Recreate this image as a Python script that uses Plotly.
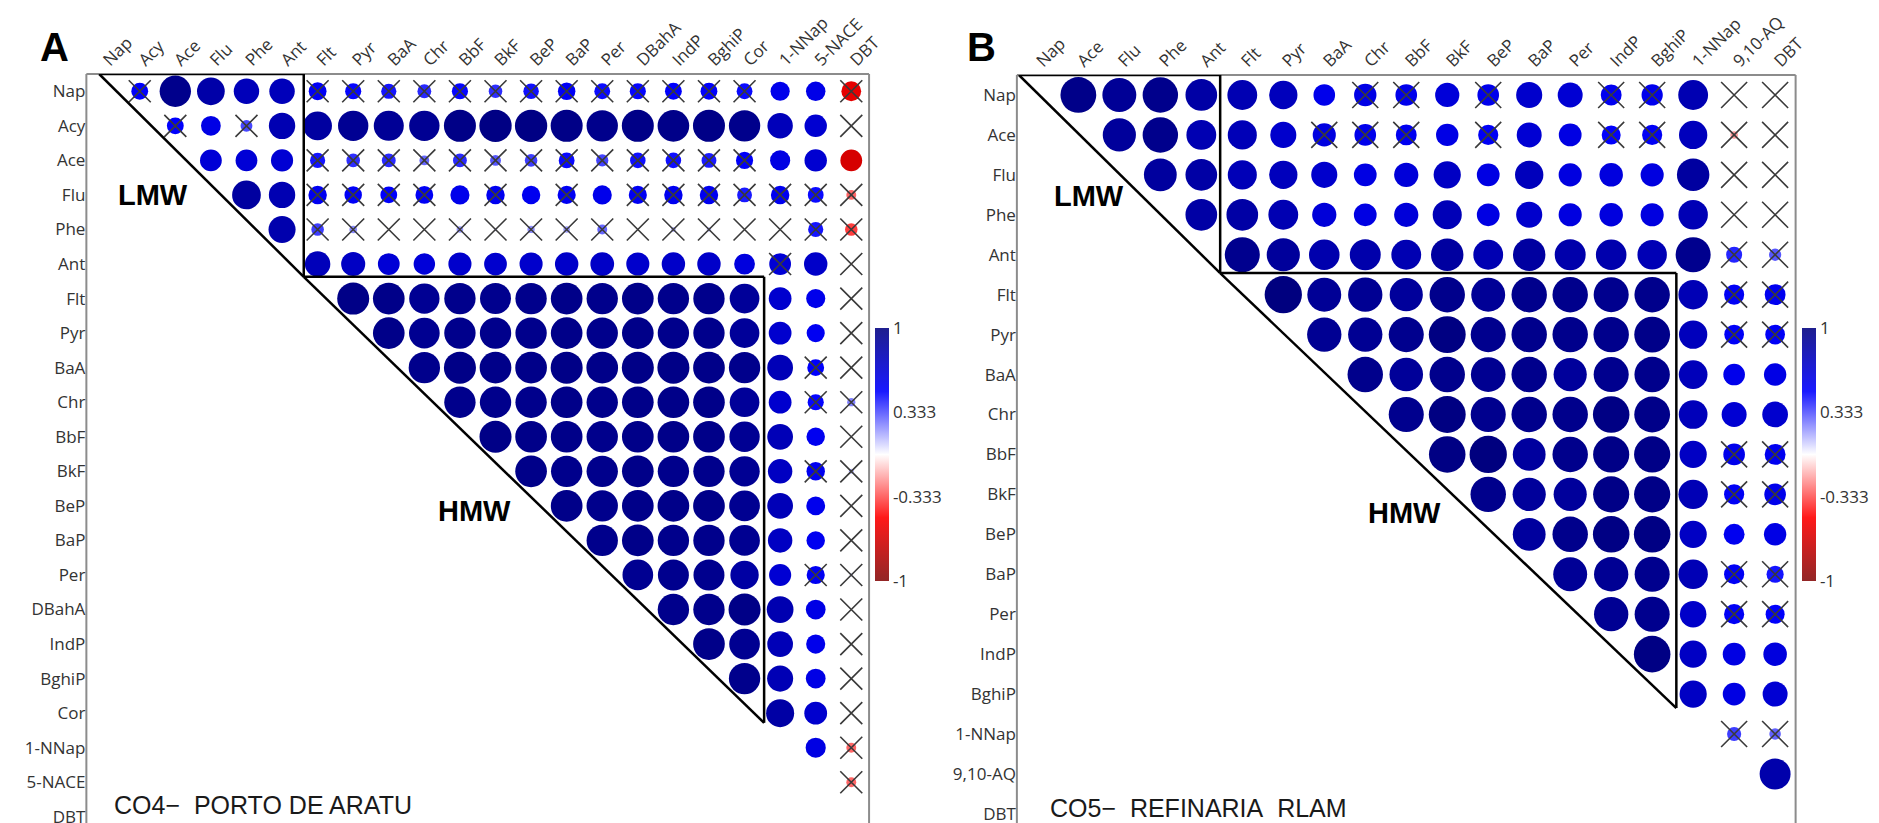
import plotly.graph_objects as go

W, H = 1879, 823

# ---- panel A: CO4 - Porto de Aratu ----
LABELS_A = ["Nap", "Acy", "Ace", "Flu", "Phe", "Ant", "Flt", "Pyr", "BaA", "Chr", "BbF",
            "BkF", "BeP", "BaP", "Per", "DBahA", "IndP", "BghiP", "Cor", "1-NNap",
            "5-NACE", "DBT"]

# upper triangle, row i holds correlations with columns i+1 .. n-1
CORR_A = [
    [0.51, 0.95, 0.84, 0.77, 0.77, 0.54, 0.49, 0.46, 0.42, 0.49, 0.41, 0.47, 0.53, 0.48, 0.49, 0.51, 0.51, 0.48, 0.58, 0.59, -0.60],
    [0.51, 0.60, 0.36, 0.80, 0.87, 0.92, 0.91, 0.92, 0.97, 0.98, 0.98, 0.97, 0.95, 0.97, 0.96, 0.97, 0.95, 0.77, 0.68, 0.03],
    [0.66, 0.66, 0.67, 0.46, 0.41, 0.42, 0.30, 0.42, 0.33, 0.38, 0.48, 0.37, 0.47, 0.47, 0.45, 0.52, 0.61, 0.68, -0.66],
    [0.87, 0.80, 0.56, 0.53, 0.51, 0.54, 0.58, 0.56, 0.56, 0.55, 0.58, 0.55, 0.56, 0.56, 0.45, 0.56, 0.48, -0.30],
    [0.82, 0.38, 0.23, 0.05, 0.05, 0.20, 0.10, 0.22, 0.20, 0.30, 0.04, 0.15, 0.13, 0.02, 0.05, 0.46, -0.38],
    [0.77, 0.73, 0.66, 0.65, 0.70, 0.69, 0.70, 0.71, 0.72, 0.70, 0.71, 0.71, 0.63, 0.66, 0.71, -0.08],
    [0.97, 0.96, 0.92, 0.95, 0.94, 0.95, 0.96, 0.95, 0.96, 0.95, 0.95, 0.90, 0.69, 0.58, 0.02],
    [0.96, 0.93, 0.95, 0.95, 0.95, 0.96, 0.95, 0.96, 0.95, 0.95, 0.90, 0.69, 0.55, 0.02],
    [0.95, 0.97, 0.96, 0.96, 0.97, 0.96, 0.97, 0.97, 0.96, 0.95, 0.78, 0.51, 0.02],
    [0.95, 0.95, 0.95, 0.96, 0.95, 0.96, 0.96, 0.96, 0.90, 0.69, 0.49, 0.25],
    [0.97, 0.96, 0.96, 0.95, 0.96, 0.96, 0.96, 0.92, 0.78, 0.56, 0.02],
    [0.96, 0.95, 0.95, 0.96, 0.95, 0.95, 0.92, 0.74, 0.56, 0.15],
    [0.96, 0.95, 0.96, 0.96, 0.96, 0.93, 0.78, 0.57, 0.02],
    [0.95, 0.96, 0.95, 0.95, 0.93, 0.74, 0.56, 0.02],
    [0.93, 0.94, 0.94, 0.86, 0.67, 0.55, 0.10],
    [0.95, 0.95, 0.97, 0.81, 0.60, 0.02],
    [0.96, 0.93, 0.78, 0.58, 0.02],
    [0.95, 0.79, 0.60, 0.02],
    [0.85, 0.69, 0.02],
    [0.61, -0.30],
    [-0.30],
]

# 1 = not significant (drawn with a cross)
NS_A = [
    [1, 0, 0, 0, 0, 1, 1, 1, 1, 1, 1, 1, 1, 1, 1, 1, 1, 1, 0, 0, 1],
    [1, 0, 1, 0, 0, 0, 0, 0, 0, 0, 0, 0, 0, 0, 0, 0, 0, 0, 0, 1],
    [0, 0, 0, 1, 1, 1, 1, 1, 1, 1, 1, 1, 1, 1, 1, 1, 0, 0, 0],
    [0, 0, 1, 1, 1, 1, 0, 1, 0, 1, 0, 1, 1, 1, 1, 1, 1, 1],
    [0, 1, 1, 1, 1, 1, 1, 1, 1, 1, 1, 1, 1, 1, 1, 1, 1],
    [0, 0, 0, 0, 0, 0, 0, 0, 0, 0, 0, 0, 0, 1, 0, 1],
    [0, 0, 0, 0, 0, 0, 0, 0, 0, 0, 0, 0, 0, 0, 1],
    [0, 0, 0, 0, 0, 0, 0, 0, 0, 0, 0, 0, 0, 1],
    [0, 0, 0, 0, 0, 0, 0, 0, 0, 0, 0, 1, 1],
    [0, 0, 0, 0, 0, 0, 0, 0, 0, 0, 1, 1],
    [0, 0, 0, 0, 0, 0, 0, 0, 0, 0, 1],
    [0, 0, 0, 0, 0, 0, 0, 0, 1, 1],
    [0, 0, 0, 0, 0, 0, 0, 0, 1],
    [0, 0, 0, 0, 0, 0, 0, 1],
    [0, 0, 0, 0, 0, 1, 1],
    [0, 0, 0, 0, 0, 1],
    [0, 0, 0, 0, 1],
    [0, 0, 0, 1],
    [0, 0, 1],
    [0, 1],
    [1],
]

# ---- panel B: CO5 - Refinaria RLAM ----
LABELS_B = ["Nap", "Ace", "Flu", "Phe", "Ant", "Flt", "Pyr", "BaA", "Chr", "BbF", "BkF",
            "BeP", "BaP", "Per", "IndP", "BghiP", "1-NNap", "9,10-AQ", "DBT"]

CORR_B = [
    [0.96, 0.91, 0.95, 0.85, 0.80, 0.76, 0.58, 0.60, 0.58, 0.65, 0.58, 0.70, 0.67, 0.56, 0.57, 0.80, 0.02, 0.02],
    [0.89, 0.95, 0.80, 0.78, 0.70, 0.62, 0.58, 0.56, 0.60, 0.54, 0.67, 0.61, 0.51, 0.54, 0.76, -0.20, -0.05],
    [0.88, 0.85, 0.78, 0.76, 0.70, 0.61, 0.65, 0.73, 0.61, 0.76, 0.62, 0.63, 0.62, 0.87, 0.02, 0.02],
    [0.85, 0.85, 0.80, 0.65, 0.61, 0.65, 0.78, 0.61, 0.70, 0.62, 0.63, 0.62, 0.79, 0.02, 0.04],
    [0.94, 0.89, 0.82, 0.83, 0.80, 0.87, 0.80, 0.87, 0.83, 0.82, 0.79, 0.94, 0.43, 0.33],
    [1.00, 0.91, 0.92, 0.89, 0.95, 0.91, 0.95, 0.95, 0.94, 0.95, 0.79, 0.54, 0.56],
    [0.92, 0.92, 0.94, 0.99, 0.94, 0.95, 0.95, 0.95, 0.96, 0.76, 0.53, 0.53],
    [0.95, 0.90, 0.95, 0.93, 0.95, 0.89, 0.94, 0.95, 0.77, 0.58, 0.60],
    [0.94, 0.99, 0.94, 0.95, 0.95, 0.98, 0.96, 0.77, 0.67, 0.69],
    [0.98, 1.00, 0.88, 0.95, 0.97, 0.97, 0.73, 0.58, 0.56],
    [0.95, 0.89, 0.89, 0.97, 0.97, 0.79, 0.54, 0.58],
    [0.88, 0.95, 0.98, 0.98, 0.73, 0.56, 0.60],
    [0.91, 0.92, 0.94, 0.79, 0.54, 0.46],
    [0.92, 0.94, 0.71, 0.54, 0.51],
    [0.98, 0.73, 0.61, 0.63],
    [0.73, 0.61, 0.67],
    [0.38, 0.31],
    [0.83],
]

NS_B = [
    [0, 0, 0, 0, 0, 0, 0, 1, 1, 0, 1, 0, 0, 1, 1, 0, 1, 1],
    [0, 0, 0, 0, 0, 1, 1, 1, 0, 1, 0, 0, 1, 1, 0, 1, 1],
    [0, 0, 0, 0, 0, 0, 0, 0, 0, 0, 0, 0, 0, 0, 1, 1],
    [0, 0, 0, 0, 0, 0, 0, 0, 0, 0, 0, 0, 0, 1, 1],
    [0, 0, 0, 0, 0, 0, 0, 0, 0, 0, 0, 0, 1, 1],
    [0, 0, 0, 0, 0, 0, 0, 0, 0, 0, 0, 1, 1],
    [0, 0, 0, 0, 0, 0, 0, 0, 0, 0, 1, 1],
    [0, 0, 0, 0, 0, 0, 0, 0, 0, 0, 0],
    [0, 0, 0, 0, 0, 0, 0, 0, 0, 0],
    [0, 0, 0, 0, 0, 0, 0, 1, 1],
    [0, 0, 0, 0, 0, 0, 1, 1],
    [0, 0, 0, 0, 0, 0, 0],
    [0, 0, 0, 0, 1, 1],
    [0, 0, 0, 1, 1],
    [0, 0, 0, 0],
    [0, 0, 0],
    [1, 1],
    [0],
]

CB_TICKS = [1, 0.333, -0.333, -1]
CB_TEXT = ["1", "0.333", "-0.333", "-1"]

CSCALE = [[0.0, "#7F0000"], [0.25, "#FF0000"], [0.5, "#FFFFFF"], [0.75, "#0000FF"], [1.0, "#00007F"]]
CSCALE_BAR = [[0.0, "rgba(127,0,0,0.85)"], [0.25, "rgba(255,0,0,0.9)"], [0.5, "rgba(255,255,255,0.9)"],
              [0.75, "rgba(0,0,255,0.9)"], [1.0, "rgba(0,0,127,0.88)"]]

TICKFONT = dict(family="Open Sans, sans-serif", size=17, color="#333333")


def px2x(px):
    return px / W


def px2y(py):
    return 1 - py / H


def cells(corr, ns):
    xs, ys, rs, cx, cy = [], [], [], [], []
    for i, row in enumerate(corr):
        for k, r in enumerate(row):
            j = i + 1 + k
            xs.append(j)
            ys.append(i)
            rs.append(r)
            if ns[i][k]:
                cx.append(j)
                cy.append(i)
    return xs, ys, rs, cx, cy


fig = go.Figure()

panels = [
    # labels, corr, ns, axis suffix, x px range, y top px, row px, max circle, cross size, colorbar x px
    (LABELS_A, CORR_A, NS_A, "", (79, 868), 66, 34.55, 33.0, 22, 874),
    (LABELS_B, CORR_B, NS_B, "2", (1017, 1802), 67, 39.94, 37.3, 26, 1808),
]

for labels, corr, ns, sfx, (xl, xr), ytop, rowh, dmax, xsize, cbx in panels:
    n = len(labels)
    xs, ys, rs, cx, cy = cells(corr, ns)
    xa, ya = "x" + sfx, "y" + sfx

    fig.add_trace(go.Scatter(
        x=xs, y=ys, mode="markers", xaxis=xa, yaxis=ya,
        marker=dict(size=[dmax * abs(r) for r in rs], color=rs, colorscale=CSCALE,
                    cmin=-1, cmax=1, line=dict(width=0), opacity=1),
        hovertemplate="%{y} / %{x}: %{marker.color:.2f}<extra></extra>",
        showlegend=False,
    ))
    fig.add_trace(go.Scatter(
        x=cx, y=cy, mode="markers", xaxis=xa, yaxis=ya,
        marker=dict(symbol="x-thin", size=xsize, line=dict(width=1.6, color="#3a3a3a")),
        hoverinfo="skip", showlegend=False,
    ))
    # colour bar only
    fig.add_trace(go.Scatter(
        x=[0, 0], y=[0, 0], mode="markers", xaxis=xa, yaxis=ya,
        marker=dict(size=0.1, opacity=0, color=[-1, 1], colorscale=CSCALE_BAR, cmin=-1, cmax=1,
                    showscale=True,
                    colorbar=dict(x=px2x(cbx), xanchor="left", y=px2y(446.5), yanchor="middle",
                                  lenmode="pixels", len=253, thickness=14, thicknessmode="pixels",
                                  outlinewidth=0, xpad=0, ypad=0, ticks="",
                                  tickvals=CB_TICKS, ticktext=CB_TEXT, tickfont=TICKFONT)),
        hoverinfo="skip", showlegend=False,
    ))

    ybottom = -0.5 + (H - ytop) / rowh
    fig.update_layout(**{
        "xaxis" + sfx: dict(domain=[px2x(xl), px2x(xr)], range=[-0.5, n - 0.5], side="top",
                            anchor=ya, tickvals=list(range(n)), ticktext=labels, tickangle=-45,
                            tickfont=TICKFONT, showgrid=False, zeroline=False, ticks="",
                            fixedrange=True),
        "yaxis" + sfx: dict(domain=[0, px2y(ytop)], range=[ybottom, -0.5], anchor=xa,
                            tickvals=list(range(n)), ticktext=labels, tickfont=TICKFONT,
                            showgrid=False, zeroline=False, ticks="", fixedrange=True),
    })

    # grey frame (left, top, right)
    for x0, y0, x1, y1 in [(0, 0, 0, 1), (0, 1, 1, 1), (1, 0, 1, 1)]:
        fig.add_shape(type="line", xref=xa + " domain", yref=ya + " domain",
                      x0=x0, y0=y0, x1=x1, y1=y1, line=dict(color="#8c8c8c", width=2), layer="below")


def triangle(xa, ya, x0, y0, x1, y1):
    for a, b, c, d in [(x0, y0, x1, y0), (x1, y0, x1, y1), (x0, y0, x1, y1)]:
        fig.add_shape(type="line", xref=xa, yref=ya, x0=a, y0=b, x1=c, y1=d,
                      line=dict(color="black", width=2.5))


# LMW / HMW outlines
triangle("x", "y", -0.14, -0.5, 5.61, 5.37)
triangle("x", "y", 5.61, 5.37, 18.55, 18.28)
triangle("x2", "y2", -0.45, -0.5, 4.46, 4.46)
triangle("x2", "y2", 4.46, 4.46, 15.59, 15.35)

notes = [
    ("A", 47, 39, 40, True, "center"),
    ("B", 981, 39, 40, True, "center"),
    ("LMW", 146, 187, 29, True, "center"),
    ("HMW", 470, 503, 29, True, "center"),
    ("LMW", 1090, 188, 29, True, "center"),
    ("HMW", 1408, 505, 29, True, "center"),
    ("CO4\u2212\u00a0 PORTO DE ARATU", 105, 797, 25, False, "left"),
    ("CO5\u2212\u00a0 REFINARIA\u00a0 RLAM", 1048, 800, 25, False, "left"),
]
for text, x, y, size, bold, anchor in notes:
    fig.add_annotation(
        text=f"<b>{text}</b>" if bold else text, x=px2x(x), y=px2y(y), xref="paper", yref="paper",
        xanchor=anchor, yanchor="middle", showarrow=False,
        font=dict(family="Liberation Sans, Arial, sans-serif", size=size,
                  color="black" if bold else "#1a1a1a"),
    )

fig.update_layout(
    width=W, height=H,
    margin=dict(l=0, r=0, t=0, b=0),
    paper_bgcolor="white",
    plot_bgcolor="white",
    showlegend=False,
)

fig.write_html("out.html")
